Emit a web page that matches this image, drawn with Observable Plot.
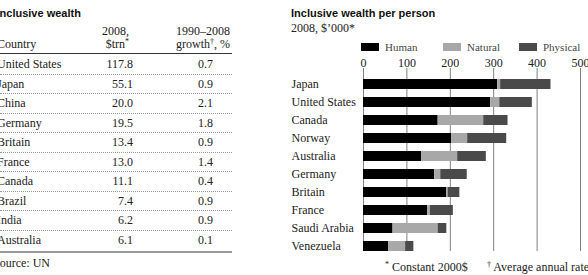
<!DOCTYPE html>
<html><head><meta charset="utf-8">
<script src="https://cdn.jsdelivr.net/npm/d3@7"></script>
<script src="https://cdn.jsdelivr.net/npm/@observablehq/plot@0.6"></script>
<style>
body{margin:0;background:#fff;}
#root{position:relative;width:588px;height:275px;overflow:hidden;font-family:"Liberation Serif",serif;color:#222;}
.abs{position:absolute;white-space:nowrap;line-height:1;}
.title{font-family:"Liberation Sans",Arial,sans-serif;font-weight:bold;font-size:11px;color:#111;}
.sup{font-size:8px;position:relative;top:-4px;}
</style></head><body><div id="root"></div>
<script>
// ---- Table data ----
const tableCountries = ["United States","Japan","China","Germany","Britain","France","Canada","Brazil","India","Australia"];
const wealth2008 = ["117.8","55.1","20.0","19.5","13.4","13.0","11.1","7.4","6.2","6.1"];
const growthRate = ["0.7","0.9","2.1","1.8","0.9","1.4","0.4","0.9","0.9","0.1"];

// ---- Chart data ($'000 per person) ----
const chartCountries = ["Japan","United States","Canada","Norway","Australia","Germany","Britain","France","Saudi Arabia","Venezuela"];
const human    = [309,293,172,203,134,164,192,148,68,58];
const natural  = [7,21,105,37,83,14,3,6,104,39];
const physical = [116,75,56,90,66,61,27,53,20,19];
const components = ["Human","Natural","Physical"];
const componentColors = ["#000000","#a8a8a8","#4a4a4a"];
const xTicks = [0,100,200,300,400,500];

const root = document.getElementById("root");
function put(html, x, y, opts = {}) {
  const d = document.createElement("div");
  d.className = "abs" + (opts.cls ? " " + opts.cls : "");
  d.innerHTML = html;
  const fs = opts.size || 12;
  d.style.fontSize = fs + "px";
  d.style.top = (y - fs / 2) + "px";
  if (opts.right != null) { d.style.right = (588 - opts.right) + "px"; }
  else d.style.left = x + "px";
  if (opts.color) d.style.color = opts.color;
  root.appendChild(d);
  return d;
}
function line(x, y, w, h, style) {
  const d = document.createElement("div");
  d.className = "abs";
  d.style.left = x + "px"; d.style.top = y + "px"; d.style.width = w + "px"; d.style.height = h + "px";
  Object.assign(d.style, style);
  root.appendChild(d);
}

// ---- Left table ----
put("Inclusive wealth", -3.5, 13, {cls: "title", size: 11});
put("2008,", 0, 31, {right: 129});
put('$trn<span class="sup">*</span>', 0, 44, {right: 129});
put("1990–2008", 0, 31, {right: 230});
put('growth<span class="sup">†</span>, %', 0, 44, {right: 230});
put("Country", -3, 44);
line(0, 52.5, 232, 1.5, {background: "#333"});
tableCountries.forEach((c, i) => {
  const y = 64 + i * 19.5;
  put(c, -3, y);
  put(wealth2008[i], 0, y, {right: 133});
  put(growthRate[i], 0, y, {right: 213});
  if (i < tableCountries.length - 1) line(0, y + 9.5, 232, 0, {borderTop: "1px dotted #999"});
});
line(0, 251, 232, 2, {background: "#999"});
put("Source: UN", -7, 263);

// ---- Right chart ----
put("Inclusive wealth per person", 291, 13, {cls: "title", size: 11});
put("2008, $’000*", 291, 28);
const legendX = [361, 443, 519];
components.forEach((c, i) => {
  line(legendX[i], 43, 18, 8, {background: componentColors[i]});
  put(c, legendX[i] + 24, 47, {size: 11, color: "#444"});
});

const data = [];
chartCountries.forEach((c, i) => {
  data.push({country: c, component: "Human", value: human[i]});
  data.push({country: c, component: "Natural", value: natural[i]});
  data.push({country: c, component: "Physical", value: physical[i]});
});

const chart = Plot.plot({
  width: 298, height: 196,
  marginTop: 13, marginBottom: 0, marginLeft: 73, marginRight: 8,
  style: {fontFamily: "Liberation Serif", fontSize: "12px", color: "#222", background: "transparent", overflow: "visible"},
  x: {domain: [0, 500], label: null},
  y: {domain: chartCountries, paddingInner: 0.42, paddingOuter: 0.277, align: 1, label: null},
  color: {domain: components, range: componentColors},
  marks: [
    Plot.gridX(xTicks, {stroke: "#808080", strokeOpacity: 1}),
    Plot.barX(data, Plot.stackX({x: "value", y: "country", fill: "component", order: components})),
    Plot.axisX(xTicks, {anchor: "top", tickSize: 0, tickPadding: 2, label: null}),
    Plot.axisY({tickSize: 0, tickPadding: 72, textAnchor: "start", label: null})
  ]
});
chart.style.position = "absolute";
chart.style.left = "290px";
chart.style.top = "55px";
root.appendChild(chart);

put('<span class="sup">*</span> Constant 2000$', 385, 267);
put('<span class="sup">†</span> Average annual rate', 487, 267);
</script>
</body></html>
